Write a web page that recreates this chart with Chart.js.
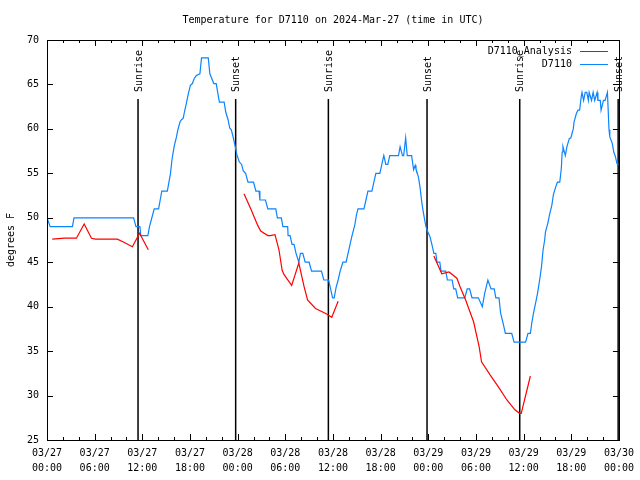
<!DOCTYPE html>
<html>
<head>
<meta charset="utf-8">
<script src="https://cdn.jsdelivr.net/npm/chart.js@4.4.1/dist/chart.umd.min.js"></script>
<style>
  html, body { margin: 0; padding: 0; background: #fff; }
  #wrap { position: relative; width: 640px; height: 480px; }
</style>
</head>
<body>
<div id="wrap"><canvas id="chart"></canvas></div>
<script>
// hours since 03/27 00:00 UTC
const stationHours = [0.0, 0.4, 3.2, 3.4, 10.9, 11.2, 11.7, 11.8, 12.7, 12.9, 13.2, 13.5, 14.05, 14.25, 14.45, 15.15,
  15.35, 15.55, 15.7, 15.85, 16.05, 16.3, 16.45, 16.75, 16.9, 17.15, 17.3, 17.55, 17.8, 18.05, 18.3, 18.55,
  18.8, 19.25, 19.45, 20.3, 20.5, 21.0, 21.3, 21.7, 22.3, 22.5, 22.8, 23.0, 23.2, 23.4, 23.7, 23.9,
  24.2, 24.5, 24.7, 25.0, 25.3, 26.0, 26.3, 26.7, 26.8, 27.5, 27.8, 28.8, 29.0, 29.5, 29.7, 30.3,
  30.35, 30.6, 30.85, 31.1, 31.35, 31.7, 31.9, 32.2, 32.5, 33.0, 33.3, 34.55, 34.85, 35.45, 35.65, 35.95,
  36.15, 36.4, 36.65, 36.9, 37.25, 37.65, 37.9, 38.15, 38.4, 38.75, 38.95, 39.15, 39.9, 40.15, 40.4, 40.9,
  41.15, 41.4, 41.9, 42.15, 42.4, 42.65, 42.9, 43.15, 44.25, 44.45, 44.75, 44.9, 45.15, 45.35, 45.9, 46.15,
  46.35, 46.45, 46.75, 46.95, 47.2, 47.4, 47.5, 47.7, 47.95, 48.2, 48.45, 48.7, 48.95, 49.1, 49.45, 49.6,
  50.2, 50.4, 51.0, 51.2, 51.45, 51.7, 52.6, 52.9, 53.2, 53.5, 54.3, 54.8, 55.1, 55.5, 55.9, 56.3,
  56.5, 56.9, 57.1, 57.45, 57.7, 58.5, 58.8, 60.25, 60.55, 60.85, 61.05, 61.25, 61.55, 61.75, 62.05, 62.25,
  62.45, 62.65, 62.75, 63.05, 63.25, 63.55, 63.75, 64.05, 64.25, 64.55, 64.75, 64.85, 64.95, 65.25, 65.45, 65.75,
  65.95, 66.25, 66.35, 66.65, 66.85, 67.05, 67.25, 67.35, 67.55, 67.75, 67.95, 68.15, 68.25, 68.55, 68.75, 68.95,
  69.25, 69.35, 69.65, 69.75, 70.05, 70.25, 70.55, 70.75, 70.85, 71.15, 71.35, 71.55, 71.75, 71.95];
const stationTemps = [50, 49, 49, 50, 50, 49, 49, 48, 48, 49, 50, 51, 51, 52, 53, 53,
  54, 55, 56.3, 57.2, 58.2, 59.1, 59.8, 60.8, 61, 61.2, 61.9, 62.9, 64, 64.9, 65.1, 65.7,
  66, 66.2, 68, 68, 66.2, 65.1, 65.1, 63, 63, 61.9, 61, 60.1, 59.9, 59.2, 58, 57.1,
  56.3, 56, 55.3, 55, 54, 54, 53, 53, 52, 52, 51, 51, 50, 50, 49, 49,
  48, 48, 47, 47, 46, 45, 46, 46, 45, 45, 44, 44, 43, 43, 42.2, 41,
  41, 42.2, 43, 44, 45, 45, 46, 47, 48, 49.2, 50.3, 51, 51, 52, 53, 53,
  54, 55, 55, 56, 57, 56, 56, 57, 57, 58, 57, 57, 59, 57, 57, 55.4,
  55.9, 55.5, 54.6, 53.5, 51.6, 50.5, 50, 49, 48.4, 47.9, 47, 46, 46, 45, 45, 44,
  44, 43, 43, 42, 42, 41, 41, 42, 42, 41, 41, 40, 41.5, 43, 42, 42,
  41, 41, 39.3, 38, 37, 37, 36, 36, 37, 37, 38.3, 39.3, 40.6, 41.5, 43.2, 44.5,
  46.4, 47.5, 48.4, 49.4, 50.3, 51.4, 52.6, 53.5, 54, 54, 55.6, 57.4, 58, 57, 58, 58.9,
  59, 60, 60.8, 61.75, 62.1, 62.1, 63.6, 64.1, 63.2, 64.1, 64.1, 63.2, 64.1, 63.2, 64.1, 63.2,
  64.1, 63.2, 63.2, 62.1, 63.2, 63.2, 64.1, 59.9, 59.1, 58.4, 57.4, 56.9, 56.1, 56];

// null temperatures mark the gaps between analysis runs
const analysisHours = [0.66, 2.2, 3.7, 4.68, 5.6, 6.1, 8.85, 9.55, 10.75, 11.65, 12.75, 18,
  24.8, 25.7, 26.5, 26.9, 27.8, 28.1, 28.7, 29.2, 29.6, 29.85, 30.4, 30.8, 31.7, 32.35, 32.8, 33.8, 35.15, 35.85, 36.65, 42,
  48.7, 49.7, 50.6, 51.6, 52.0, 52.7, 53.7, 54.4, 54.7, 55.8, 56.8, 57.9, 58.9, 59.5, 59.7, 60.85];
const analysisTemps = [47.6, 47.7, 47.7, 49.3, 47.7, 47.6, 47.6, 47.3, 46.75, 48.25, 46.4, null,
  52.7, 50.9, 49.2, 48.5, 48, 48, 48.1, 46.4, 44.1, 43.6, 42.9, 42.4, 44.9, 42.3, 40.75, 39.8, 39.2, 38.8, 40.6, null,
  45.7, 43.7, 43.9, 43.2, 42.25, 40.75, 38.3, 35.5, 33.8, 32.3, 31.0, 29.5, 28.4, 28.0, 28.0, 32.2];

const sunHours = [11.46, 23.75, 35.42, 47.84, 59.51, 71.9];
const sunLabels = ['Sunrise', 'Sunset', 'Sunrise', 'Sunset', 'Sunrise', 'Sunset'];

const tickDates = ['03/27', '03/27', '03/27', '03/27', '03/28', '03/28', '03/28', '03/28', '03/29', '03/29', '03/29', '03/29', '03/30'];
const tickTimes = ['00:00', '06:00', '12:00', '18:00', '00:00', '06:00', '12:00', '18:00', '00:00', '06:00', '12:00', '18:00', '00:00'];

const MONO = '"DejaVu Sans Mono", "Liberation Mono", monospace';
const BLUE = '#0b84ff';
const RED = '#ff0000';

const toPoints = (xs, ys) => xs.map((x, i) => ({ x: x, y: ys[i] }));

// gnuplot style frame: border, inward ticks, sun lines, legend
const gnuFrame = {
  id: 'gnuFrame',
  beforeDatasetsDraw(chart) {
    const { ctx, chartArea, scales } = chart;
    ctx.save();
    ctx.strokeStyle = '#000';
    ctx.lineWidth = 1.5;
    ctx.fillStyle = '#000';
    ctx.font = '10px ' + MONO;
    sunHours.forEach((h, i) => {
      const x = scales.x.getPixelForValue(h);
      ctx.beginPath();
      ctx.moveTo(x, chartArea.top + 59);
      ctx.lineTo(x, chartArea.bottom);
      ctx.stroke();
      ctx.save();
      ctx.translate(x + 1, chartArea.top + 52);
      ctx.rotate(-Math.PI / 2);
      ctx.textAlign = 'left';
      ctx.textBaseline = 'middle';
      ctx.fillText(sunLabels[i], 0, 0);
      ctx.restore();
    });
    ctx.restore();
  },
  afterDraw(chart) {
    const { ctx, chartArea, scales } = chart;
    const { left, right, top, bottom } = chartArea;
    ctx.save();
    ctx.strokeStyle = '#000';
    ctx.lineWidth = 1;
    ctx.strokeRect(Math.round(left) + 0.5, Math.round(top) + 0.5, Math.round(right - left), Math.round(bottom - top));
    ctx.beginPath();
    for (let h = 0; h <= 72; h += 2) {
      const x = Math.round(scales.x.getPixelForValue(h)) + 0.5;
      const len = h % 6 === 0 ? 6 : 3;
      ctx.moveTo(x, bottom); ctx.lineTo(x, bottom - len);
      ctx.moveTo(x, top); ctx.lineTo(x, top + len);
    }
    for (let t = 25; t <= 70; t += 5) {
      const y = Math.round(scales.y.getPixelForValue(t)) + 0.5;
      ctx.moveTo(left, y); ctx.lineTo(left + 6, y);
      ctx.moveTo(right, y); ctx.lineTo(right - 6, y);
    }
    ctx.stroke();

    // legend
    ctx.font = '10px ' + MONO;
    ctx.textAlign = 'right';
    ctx.textBaseline = 'middle';
    ctx.fillStyle = '#000';
    chart.data.datasets.forEach((ds, i) => {
      const y = top + 11 + i * 13;
      ctx.fillText(ds.label, right - 47, y);
      ctx.strokeStyle = ds.borderColor;
      ctx.beginPath();
      ctx.moveTo(right - 39, Math.round(y) + 0.5);
      ctx.lineTo(right - 11, Math.round(y) + 0.5);
      ctx.stroke();
    });
    ctx.restore();
  }
};

new Chart(document.getElementById('chart'), {
  type: 'line',
  data: {
    datasets: [
      {
        label: 'D7110_Analysis',
        data: toPoints(analysisHours, analysisTemps),
        borderColor: RED,
        borderWidth: 1.2,
        pointRadius: 0,
        tension: 0,
        spanGaps: false
      },
      {
        label: 'D7110',
        data: toPoints(stationHours, stationTemps),
        borderColor: BLUE,
        borderWidth: 1.2,
        pointRadius: 0,
        tension: 0
      }
    ]
  },
  options: {
    responsive: true,
    maintainAspectRatio: false,
    animation: false,
    layout: { padding: { left: 0, right: 19, top: 0, bottom: 0 } },
    scales: {
      x: {
        type: 'linear',
        min: 0,
        max: 72,
        grid: { display: false, drawTicks: false },
        border: { display: false },
        ticks: {
          stepSize: 6,
          autoSkip: false,
          maxRotation: 0,
          padding: 6,
          color: '#000',
          font: { family: MONO, size: 10, lineHeight: 1.5 },
          callback: (v) => {
            const i = Math.round(v / 6);
            return [tickDates[i], tickTimes[i]];
          }
        },
        afterFit: (scale) => { scale.height = 40; }
      },
      y: {
        min: 25,
        max: 70,
        grid: { display: false, drawTicks: false },
        border: { display: false },
        ticks: {
          stepSize: 5,
          padding: 8,
          color: '#000',
          font: { family: MONO, size: 10, lineHeight: 1.2 }
        },
        title: {
          display: true,
          text: 'degrees F',
          color: '#000',
          font: { family: MONO, size: 10, lineHeight: 1.2 },
          padding: { top: 5, bottom: 0 }
        },
        afterFit: (scale) => { scale.width = 47; }
      }
    },
    plugins: {
      legend: { display: false },
      tooltip: { enabled: false },
      title: {
        display: true,
        fullSize: false,
        text: 'Temperature for D7110 on 2024-Mar-27 (time in UTC)',
        color: '#000',
        font: { family: MONO, size: 10, weight: 'normal', lineHeight: 1.2 },
        padding: { top: 14, bottom: 14 }
      }
    }
  },
  plugins: [gnuFrame]
});
</script>
</body>
</html>
